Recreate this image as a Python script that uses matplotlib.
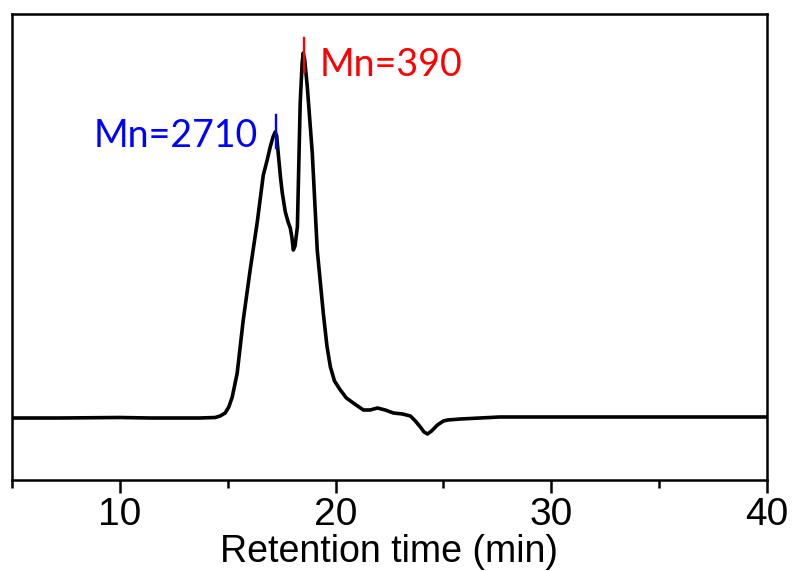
import matplotlib
matplotlib.use("Agg")
import matplotlib.pyplot as plt
from matplotlib.ticker import MultipleLocator

# GPC trace (retention time in min, detector signal in arbitrary units)
rt = [5.0, 7.2, 10.0, 11.4, 13.7, 14.42, 14.65, 14.88, 15.05, 15.21, 15.44,
      15.72, 16.04, 16.37, 16.65, 16.83, 16.97, 17.1, 17.2, 17.27, 17.34,
      17.45, 17.53, 17.67, 17.8, 17.9, 17.98, 18.04, 18.12, 18.23, 18.36,
      18.45, 18.5, 18.57, 18.69, 18.92, 19.15, 19.43, 19.6, 19.76, 19.95,
      20.22, 20.5, 20.82, 21.29, 21.6, 21.94, 22.3, 22.68, 23.1, 23.47,
      23.7, 23.93, 24.1, 24.26, 24.45, 24.72, 25.0, 25.19, 25.79, 27.6,
      30.0, 33.0, 36.0, 38.0, 40.0]
signal = [0, 0, 0.5, 0, 0, 0.5, 2, 5, 11, 21, 45,
          98, 148, 196, 243, 258, 271, 281, 286, 282, 265,
          240, 225, 206, 196, 190, 180, 168, 172, 191, 315,
          355, 365, 358, 331, 265, 168, 105, 72, 51, 37,
          28, 20, 15, 8, 8, 10, 8, 5, 4, 2,
          -3, -9, -14, -16, -13, -7, -3, -2, -1, 1,
          1, 1, 1, 1, 1]

# Mn marks: position, text, colour, line span
mark_rt = [17.25, 18.55]
mark_text = ["Mn=2710", "Mn=390"]
mark_color = ["#0000ff", "#ff0000"]
mark_lo = [270, 346]
mark_hi = [303, 380]

fig = plt.figure(figsize=(7.92, 5.71), dpi=100)
ax = fig.add_axes([12 / 792, 91 / 571, 755 / 792, 466 / 571])

ax.plot(rt, signal, color="black", lw=2.6, solid_joinstyle="round", solid_capstyle="round")

for x, lo, hi, c in zip(mark_rt, mark_lo, mark_hi, mark_color):
    ax.plot([x, x], [lo, hi], color=c, lw=1.7)

ax.text(16.4, 271, mark_text[0], color=mark_color[0], fontsize=27,
        family="Lato", ha="right", va="baseline")
ax.text(19.25, 342, mark_text[1], color=mark_color[1], fontsize=27,
        family="Lato", ha="left", va="baseline")

ax.set_xlim(5, 40)
ax.set_ylim(-62, 404)
ax.set_yticks([])
ax.xaxis.set_major_locator(MultipleLocator(10))
ax.xaxis.set_minor_locator(MultipleLocator(5))
ax.tick_params(axis="x", which="major", direction="out", length=9, width=1.8,
               labelsize=28, pad=3)
ax.tick_params(axis="x", which="minor", direction="out", length=6, width=1.8)
for lab in ax.get_xticklabels():
    lab.set_family("Liberation Sans")
for sp in ax.spines.values():
    sp.set_linewidth(1.8)

ax.set_xlabel("Retention time (min)", fontsize=27, family="Liberation Sans", labelpad=1)

fig.savefig("out.png", dpi=100)
